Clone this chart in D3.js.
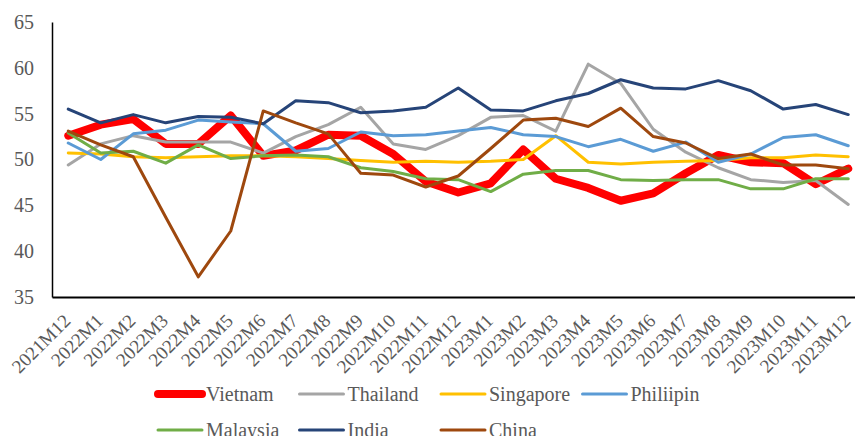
<!DOCTYPE html>
<html>
<head>
<meta charset="utf-8">
<title>PMI lines</title>
<script src="https://cdnjs.cloudflare.com/ajax/libs/d3/7.8.5/d3.min.js"></script>
<style>
  body { margin: 0; background: #fff; }
  svg text { font-family: "Times New Roman", "Liberation Serif", serif; fill: #595959; }
</style>
</head>
<body>
<div id="chart"></div>
<script>
// months on the x axis
var months = ["2021M12", "2022M1", "2022M2", "2022M3", "2022M4", "2022M5", "2022M6",
  "2022M7", "2022M8", "2022M9", "2022M10", "2022M11", "2022M12", "2023M1", "2023M2",
  "2023M3", "2023M4", "2023M5", "2023M6", "2023M7", "2023M8", "2023M9", "2023M10",
  "2023M11", "2023M12"];

var yTicks = [35, 40, 45, 50, 55, 60, 65];

// series
var vietnam   = [52.6, 53.8, 54.4, 51.7, 51.7, 54.8, 50.4, 51.0, 52.7, 52.6, 50.6, 47.6, 46.4, 47.4, 51.1, 47.9, 46.9, 45.5, 46.3, 48.5, 50.5, 49.7, 49.6, 47.3, 49.0];
var thailand  = [49.4, 51.7, 52.6, 51.9, 51.9, 51.9, 50.7, 52.5, 53.8, 55.7, 51.7, 51.1, 52.6, 54.6, 54.8, 53.1, 60.4, 58.3, 53.3, 50.8, 49.1, 47.8, 47.5, 47.7, 45.1];
var singapore = [50.7, 50.6, 50.3, 50.2, 50.3, 50.4, 50.4, 50.3, 50.1, 49.9, 49.7, 49.8, 49.7, 49.8, 50.0, 52.6, 49.7, 49.5, 49.7, 49.8, 49.9, 50.2, 50.2, 50.5, 50.3];
var philiipin = [51.8, 50.0, 52.8, 53.2, 54.3, 54.1, 53.9, 50.9, 51.2, 53.0, 52.6, 52.7, 53.1, 53.5, 52.7, 52.5, 51.4, 52.2, 50.9, 51.9, 49.7, 50.6, 52.4, 52.7, 51.5];
var malaysia  = [52.9, 50.7, 50.9, 49.6, 51.6, 50.1, 50.4, 50.5, 50.3, 49.1, 48.7, 47.9, 47.8, 46.5, 48.4, 48.8, 48.8, 47.8, 47.7, 47.8, 47.8, 46.8, 46.8, 47.9, 47.9];
var india     = [55.5, 54.0, 54.9, 54.0, 54.7, 54.6, 53.9, 56.4, 56.2, 55.1, 55.3, 55.7, 57.8, 55.4, 55.3, 56.4, 57.2, 58.7, 57.8, 57.7, 58.6, 57.5, 55.5, 56.0, 54.9];
var china     = [53.1, 51.6, 50.3, 43.7, 37.2, 42.2, 55.3, 54.0, 52.8, 48.5, 48.3, 47.0, 48.2, 51.2, 54.3, 54.5, 53.6, 55.6, 52.5, 51.8, 50.1, 50.6, 49.4, 49.4, 49.0];

var names  = ["Vietnam", "Thailand", "Singapore", "Philiipin", "Malaysia", "India", "China"];
var values = [vietnam, thailand, singapore, philiipin, malaysia, india, china];
var colors = ["#ff0000", "#a5a5a5", "#ffc000", "#5b9bd5", "#70ad47", "#264478", "#9e480e"];
var widths = [8, 3, 3, 3, 3, 3, 3];

var W = 855, H = 436;
var mLeft = 52, mTop = 22, mBottom = 297, plotW = 812.5;

var svg = d3.select("#chart").append("svg")
  .attr("width", W).attr("height", H);

var x = d3.scalePoint().domain(months).range([mLeft, mLeft + plotW]).padding(0.5);
var y = d3.scaleLinear().domain([35, 65]).range([mBottom, mTop]);

// y axis
var yAxis = svg.append("g")
  .attr("transform", "translate(" + mLeft + ",0)")
  .call(d3.axisLeft(y).tickValues(yTicks).tickSize(0).tickPadding(18));
yAxis.select(".domain").attr("stroke", "#000").attr("stroke-width", 1.5);
yAxis.selectAll("text").style("font-size", "20px");

// x axis
var xAxis = svg.append("g")
  .attr("transform", "translate(0," + mBottom + ")")
  .call(d3.axisBottom(x).tickSize(0));
xAxis.select(".domain").attr("stroke", "#000").attr("stroke-width", 2);
xAxis.selectAll("text")
  .style("font-size", "19px")
  .attr("text-anchor", "end")
  .attr("y", 0).attr("dy", 0)
  .attr("transform", "translate(3,25) rotate(-45)");

// lines
var line = d3.line()
  .x(function(d, i) { return x(months[i]); })
  .y(function(d) { return y(d); });

svg.append("g").selectAll("path")
  .data(values)
  .enter().append("path")
  .attr("d", line)
  .attr("fill", "none")
  .attr("stroke", function(d, i) { return colors[i]; })
  .attr("stroke-width", function(d, i) { return widths[i]; })
  .attr("stroke-linejoin", "round")
  .attr("stroke-linecap", "round");

// legend, 4 per row
var legend = svg.append("g").selectAll("g")
  .data(names)
  .enter().append("g")
  .attr("transform", function(d, i) {
    return "translate(" + (156 + (i % 4) * 141.5) + "," + (394 + Math.floor(i / 4) * 36) + ")";
  });

legend.append("line")
  .attr("x1", 2).attr("x2", 46)
  .attr("stroke", function(d, i) { return colors[i]; })
  .attr("stroke-width", function(d, i) { return widths[i]; })
  .attr("stroke-linecap", "round");

legend.append("text")
  .attr("x", 50).attr("y", 7)
  .style("font-size", "20px")
  .text(function(d) { return d; });
</script>
</body>
</html>
